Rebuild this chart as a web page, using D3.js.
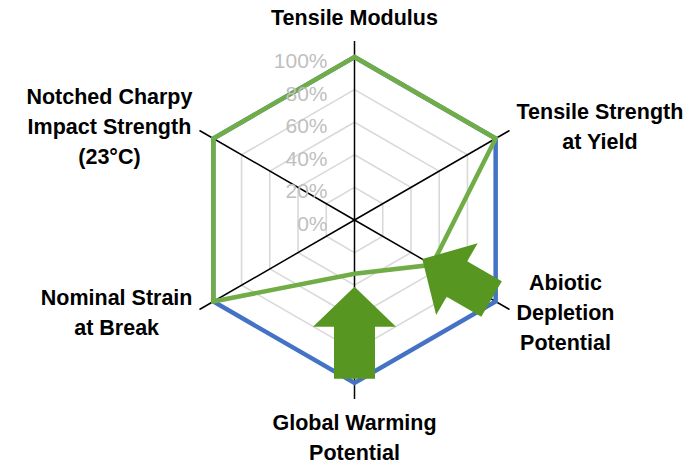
<!DOCTYPE html>
<html>
<head>
<meta charset="utf-8">
<script src="https://cdn.jsdelivr.net/npm/d3@7/dist/d3.min.js"></script>
<style>
  html, body { margin: 0; padding: 0; background: #ffffff; }
  svg { display: block; }
</style>
</head>
<body>
<svg id="chart" width="698" height="466"></svg>
<script>
// Radar axes, clockwise from the top
const categories = [
  "Tensile Modulus",
  "Tensile Strength\nat Yield",
  "Abiotic\nDepletion\nPotential",
  "Global Warming\nPotential",
  "Nominal Strain\nat Break",
  "Notched Charpy\nImpact Strength\n(23°C)"
];

// Series values as a share of the reference (1 = 100%)
const referenceValues = [1.00, 1.00, 1.00, 1.00, 1.00, 1.00];
const improvedValues  = [1.00, 1.00, 0.55, 0.33, 1.00, 1.00];

// Radial tick marks
const tickValues = [0, 0.2, 0.4, 0.6, 0.8, 1.0];
const tickLabels = ["0%", "20%", "40%", "60%", "80%", "100%"];

// Highlight arrows pointing toward the centre on two axes
const arrowAxes   = [3, 2];
const arrowTips   = [0.41, 0.48];
const arrowLength = [92, 80];

// ---- layout ----
const cx = 354.5, cy = 220, R = 163;
const AXIS_EXT = 16;
const LINE_H = 30;
const GAP = 7;
const FONT = "'Liberation Sans', Arial, sans-serif";

const svg = d3.select("#chart");
const g = svg.append("g").attr("transform", `translate(${cx},${cy})`);

const n = categories.length;
const angle = d3.scaleLinear().domain([0, n]).range([0, 2 * Math.PI]);
const r = d3.scaleLinear().domain([0, 1]).range([0, R]);

const px = (i, v) => r(v) * Math.sin(angle(i));
const py = (i, v) => -r(v) * Math.cos(angle(i));

const radial = d3.lineRadial()
  .angle((d, i) => angle(i))
  .radius(d => r(d))
  .curve(d3.curveLinearClosed);

// Grid polygons
g.append("g").selectAll("path")
  .data(tickValues.filter(v => v > 0))
  .join("path")
  .attr("d", v => radial(d3.range(n).map(() => v)))
  .attr("fill", "none")
  .attr("stroke", "#d9d9d9")
  .attr("stroke-width", 1.6);

// Spokes
g.append("g").selectAll("line")
  .data(d3.range(n))
  .join("line")
  .attr("x1", 0).attr("y1", 0)
  .attr("x2", i => (R + AXIS_EXT) * Math.sin(angle(i)))
  .attr("y2", i => -(R + AXIS_EXT) * Math.cos(angle(i)))
  .attr("stroke", "#000")
  .attr("stroke-width", 1.5);

// Series outlines
const seriesList = [
  { values: referenceValues, color: "#4472c4" },
  { values: improvedValues,  color: "#70ad47" }
];
g.append("g").selectAll("path")
  .data(seriesList)
  .join("path")
  .attr("d", s => radial(s.values))
  .attr("fill", "none")
  .attr("stroke", s => s.color)
  .attr("stroke-width", 4.5)
  .attr("stroke-linejoin", "miter");

// Radial tick labels
g.append("g").selectAll("text")
  .data(tickValues)
  .join("text")
  .attr("x", -27)
  .attr("y", v => -r(v) + 11)
  .attr("text-anchor", "end")
  .attr("font-family", FONT)
  .attr("font-size", 21)
  .attr("fill", "#bfbfbf")
  .text((v, i) => tickLabels[i]);

// Arrows (built pointing up with the tip at the origin, then rotated onto the axis)
function arrowPath(len) {
  const headLen = 40, headHalf = 41.5, shaftHalf = 20.5;
  const p = d3.path();
  p.moveTo(0, 0);
  p.lineTo(headHalf, headLen);
  p.lineTo(shaftHalf, headLen);
  p.lineTo(shaftHalf, len);
  p.lineTo(-shaftHalf, len);
  p.lineTo(-shaftHalf, headLen);
  p.lineTo(-headHalf, headLen);
  p.closePath();
  return p.toString();
}
g.append("g").selectAll("path")
  .data(d3.range(arrowAxes.length))
  .join("path")
  .attr("d", k => arrowPath(arrowLength[k]))
  .attr("transform", k => {
    const i = arrowAxes[k];
    const deg = angle(i) * 180 / Math.PI - 180;
    return `translate(${px(i, arrowTips[k])},${py(i, arrowTips[k])}) rotate(${deg})`;
  })
  .attr("fill", "#579620");

// Category labels
const labels = g.append("g").selectAll("text")
  .data(categories)
  .join("text")
  .attr("text-anchor", "middle")
  .attr("font-family", FONT)
  .attr("font-weight", "bold")
  .attr("font-size", 21.5)
  .attr("fill", "#000");

labels.each(function(d, i) {
  const lines = d.split("\n");
  const t = d3.select(this);
  lines.forEach((ln, j) => t.append("tspan").attr("x", 0).attr("y", j * LINE_H).text(ln));
  const w = this.getBBox().width;
  const a = angle(i);
  const s = Math.sin(a), c = Math.cos(a);
  const ex = (R + AXIS_EXT) * s, ey = -(R + AXIS_EXT) * c;
  let x, y;
  if (Math.abs(s) < 0.01) {
    x = ex;
    y = c > 0 ? ey - 16 - (lines.length - 1) * LINE_H : ey + 31;
  } else {
    x = s > 0 ? ex + GAP + w / 2 : ex - GAP - w / 2;
    y = ey + (6.5 - 7 * c) - (lines.length - 1) * LINE_H / 2;
  }
  t.attr("transform", `translate(${x},${y})`);
});
</script>
</body>
</html>
